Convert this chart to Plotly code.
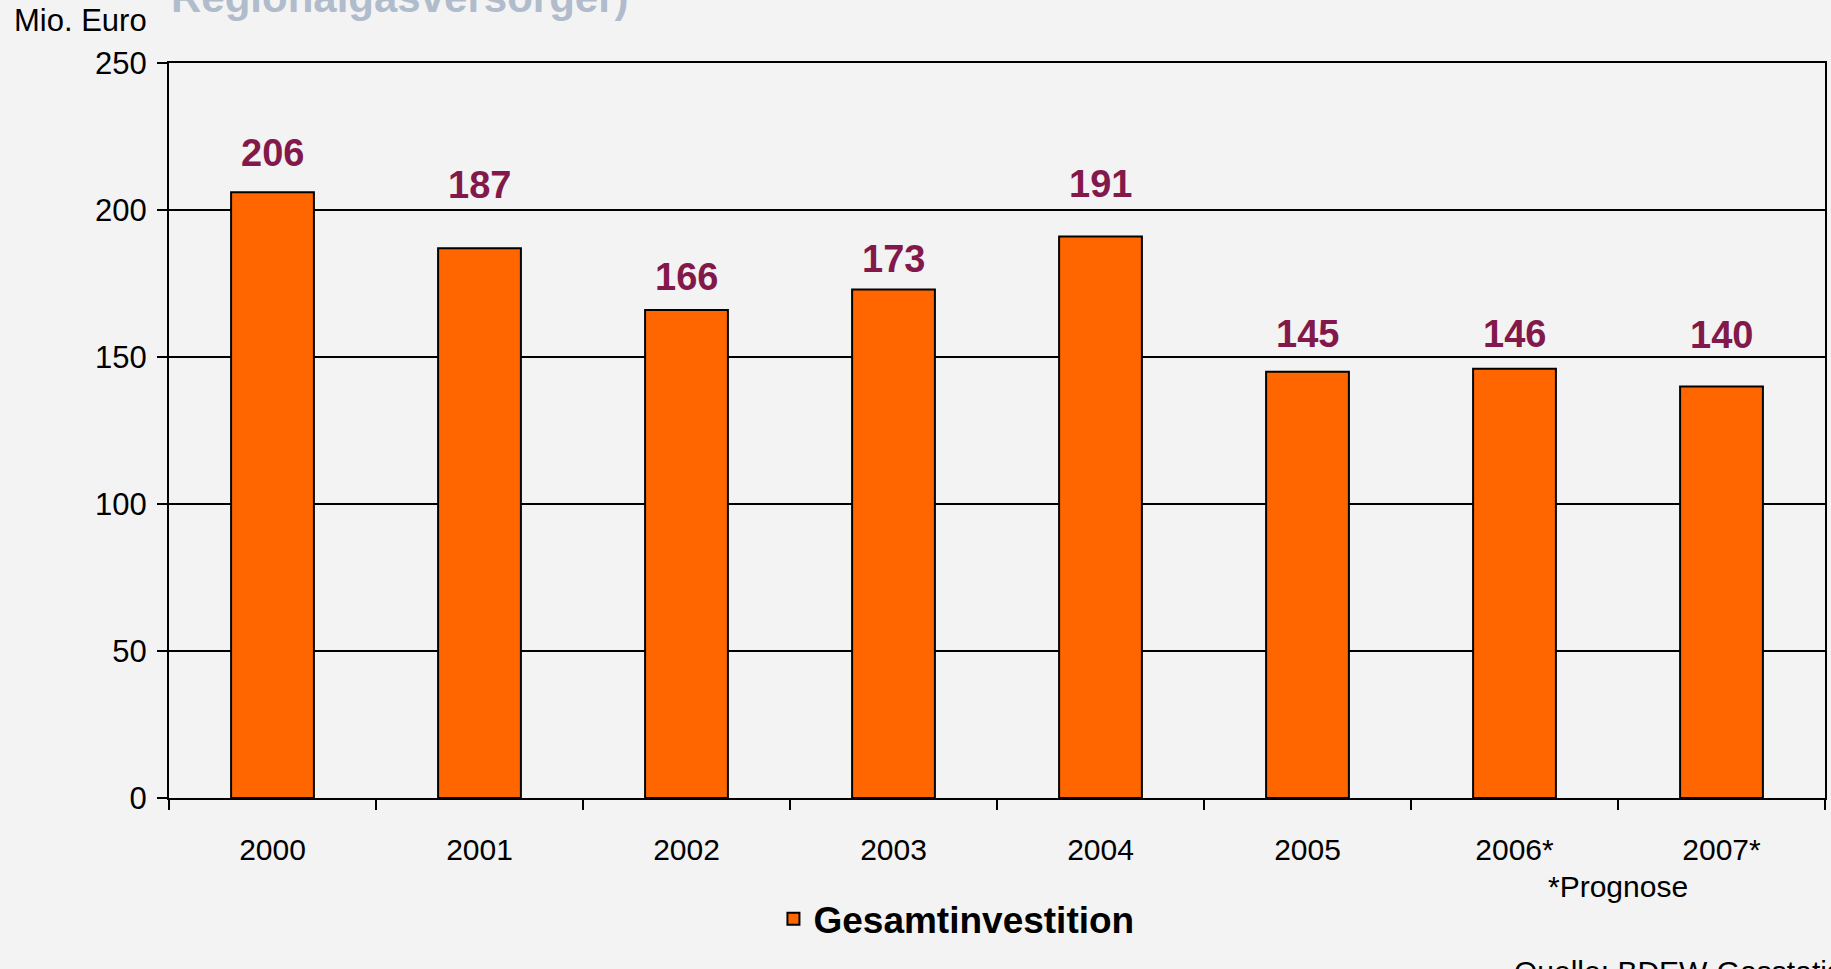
import plotly.graph_objects as go

# Daten
jahre = ["2000", "2001", "2002", "2003", "2004", "2005", "2006*", "2007*"]
invest = [206, 187, 166, 173, 191, 145, 146, 140]
serie = "Gesamtinvestition"

BG = "#F3F3F3"
ORANGE = "#FF6600"
WEIN = "#82194A"
FONT = "Liberation Sans, Arial, sans-serif"

fig = go.Figure()
fig.add_trace(go.Bar(
    x=jahre, y=invest, name=f"<b>{serie}</b>", width=0.4,
    marker=dict(color=ORANGE, line=dict(color="black", width=2)),
    showlegend=True,
))

# Wertbeschriftungen (im Original manuell verschoben)
label_shift = [39, 63, 33, 30, 52, 38, 35, 51]
for i, (v, s) in enumerate(zip(invest, label_shift)):
    fig.add_annotation(x=i, y=v, text=f"<b>{v}</b>", showarrow=False,
                       yanchor="middle", yshift=s,
                       font=dict(size=38, color=WEIN, family=FONT))

fig.add_annotation(xref="paper", yref="paper", x=-0.095, y=1.031,
                   xanchor="left", yanchor="bottom", text="Mio. Euro",
                   showarrow=False, font=dict(size=31, color="black", family=FONT))
# Titel, oben abgeschnitten wie im Original
fig.add_annotation(xref="paper", yref="paper", x=0.0, y=1.055,
                   xanchor="left", yanchor="bottom", text="<b>Regionalgasversorger)</b>",
                   showarrow=False,
                   font=dict(size=42, color="#B0BCCB", family=FONT))
fig.add_annotation(xref="paper", yref="paper", x=0.875, y=-0.095,
                   xanchor="center", yanchor="top", text="*Prognose",
                   showarrow=False, font=dict(size=30, color="black", family=FONT))
fig.add_annotation(xref="paper", yref="paper", x=0.811, y=-0.211,
                   xanchor="left", yanchor="top", text="Quelle: BDEW-Gasstatistik",
                   showarrow=False, font=dict(size=30, color="black", family=FONT))

fig.update_layout(
    width=1831, height=969,
    paper_bgcolor=BG, plot_bgcolor=BG,
    margin=dict(l=169, r=4, t=63, b=171),
    font=dict(family=FONT, size=30, color="black"),
    legend=dict(orientation="h", x=0.365, xanchor="left", y=-0.165, yanchor="middle",
                font=dict(size=37, color="black", family=FONT),
                bgcolor="rgba(0,0,0,0)"),
)

fig.update_xaxes(
    type="category", range=[-0.5, len(jahre) - 0.5],
    showline=True, linecolor="black", linewidth=2, mirror=True,
    ticks="outside", tickson="boundaries", ticklen=10, tickwidth=2, tickcolor="black",
    ticklabelstandoff=24, showgrid=False, tickangle=0, tickfont=dict(size=30),
)
fig.update_yaxes(
    range=[0, 250], dtick=50, showline=True, linecolor="black", linewidth=2, mirror=True,
    ticks="outside", ticklen=10, tickwidth=2, tickcolor="black",
    showgrid=True, gridcolor="black", gridwidth=1.5, zeroline=False,
    ticklabelstandoff=4, tickfont=dict(size=31),
)

fig.write_html("out.html", config={"displayModeBar": False},
               post_script="document.body.style.margin='0';")
